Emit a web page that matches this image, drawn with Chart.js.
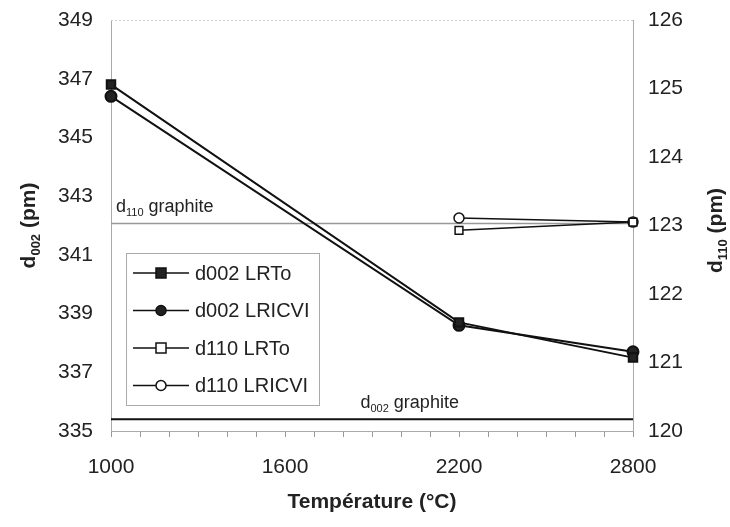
<!DOCTYPE html>
<html>
<head>
<meta charset="utf-8">
<script src="https://cdn.jsdelivr.net/npm/chart.js@4"></script>
<style>
  html, body { margin: 0; padding: 0; background: #fff; }
  #wrap { width: 730px; height: 527px; }
</style>
</head>
<body>
<div id="wrap"><canvas id="chart"></canvas></div>
<script>
// data
const temps = [1000, 2200, 2800];
const d002LRTo = [346.8, 338.7, 337.5];
const d002LRICVI = [346.4, 338.6, 337.7];
const d110LRTo = [null, 122.93, 123.05];
const d110LRICVI = [null, 123.11, 123.05];
const d002Graphite = 335.4;
const d110Graphite = 123.03;
const xLabels = [1000, 1600, 2200, 2800];

const FONT = '"Liberation Sans", Arial, sans-serif';
const INK = '#222';

function pts(vals) {
    return temps.map((t, i) => ({ x: t, y: vals[i] })).filter(p => p.y !== null);
}
function flat(v) {
    return [{ x: temps[0], y: v }, { x: temps[temps.length - 1], y: v }];
}

// text with a subscript part: main, sub, rest
function subText(ctx, x, y, parts, size, bold, align) {
    const w = bold ? 'bold ' : '';
    const big = w + size + 'px ' + FONT;
    const small = w + Math.round(size * 0.62) + 'px ' + FONT;
    ctx.font = big; const w1 = ctx.measureText(parts[0]).width;
    ctx.font = small; const w2 = ctx.measureText(parts[1]).width;
    ctx.font = big; const w3 = ctx.measureText(parts[2]).width;
    let sx = x;
    if (align === 'center') sx = x - (w1 + w2 + w3) / 2;
    ctx.textAlign = 'left';
    ctx.textBaseline = 'alphabetic';
    ctx.fillStyle = INK;
    ctx.font = big; ctx.fillText(parts[0], sx, y);
    ctx.font = small; ctx.fillText(parts[1], sx + w1, y + size * 0.22);
    ctx.font = big; ctx.fillText(parts[2], sx + w1 + w2, y);
}

const decor = {
    id: 'decor',
    afterDatasetsDraw(chart) {
        const ctx = chart.ctx;
        const xs = chart.scales.x, y = chart.scales.y, y1 = chart.scales.y1;
        const a = chart.chartArea;
        ctx.save();
        // faint top line
        ctx.strokeStyle = '#ccc';
        ctx.lineWidth = 1;
        ctx.setLineDash([2, 2]);
        ctx.beginPath(); ctx.moveTo(a.left, a.top + 0.5); ctx.lineTo(a.right, a.top + 0.5); ctx.stroke();
        ctx.setLineDash([]);

        // reference line labels
        subText(ctx, xs.getPixelForValue(1000) + 5, y1.getPixelForValue(d110Graphite) - 11,
            ['d', '110', ' graphite'], 18, false, 'left');
        subText(ctx, xs.getPixelForValue(2030), y.getPixelForValue(d002Graphite) - 11,
            ['d', '002', ' graphite'], 18, false, 'center');

        // legend box
        const lx = 126, ly = 253, lw = 193, lh = 152;
        ctx.strokeStyle = '#aaa';
        ctx.lineWidth = 1;
        ctx.strokeRect(lx + 0.5, ly + 0.5, lw, lh);
        chart.data.datasets.forEach((ds, i) => {
            if (ds.noLegend) return;
            const cy = ly + 20 + i * 37.5;
            ctx.strokeStyle = '#111';
            ctx.lineWidth = 1.5;
            ctx.beginPath(); ctx.moveTo(lx + 7, cy); ctx.lineTo(lx + 63, cy); ctx.stroke();
            ctx.fillStyle = ds.pointBackgroundColor;
            const mx = lx + 35;
            if (ds.pointStyle === 'rect') {
                ctx.fillRect(mx - 5, cy - 5, 10, 10);
                ctx.strokeRect(mx - 5, cy - 5, 10, 10);
            } else {
                ctx.beginPath(); ctx.arc(mx, cy, 5, 0, Math.PI * 2); ctx.fill(); ctx.stroke();
            }
            ctx.fillStyle = INK;
            ctx.font = '20px ' + FONT;
            ctx.textAlign = 'left';
            ctx.textBaseline = 'middle';
            ctx.fillText(ds.label, lx + 69, cy + 1);
        });

        // axis titles
        ctx.save();
        ctx.translate(35, (a.top + a.bottom) / 2);
        ctx.rotate(-Math.PI / 2);
        subText(ctx, 0, 0, ['d', '002', ' (pm)'], 21, true, 'center');
        ctx.restore();
        ctx.save();
        ctx.translate(722, (a.top + a.bottom) / 2 + 5);
        ctx.rotate(-Math.PI / 2);
        subText(ctx, 0, 0, ['d', '110', ' (pm)'], 21, true, 'center');
        ctx.restore();
        ctx.restore();
    }
};

new Chart(document.getElementById('chart'), {
    type: 'line',
    data: {
        datasets: [
            {
                label: 'd002 LRTo', data: pts(d002LRTo), yAxisID: 'y', clip: false,
                borderColor: '#111', borderWidth: 2,
                pointStyle: 'rect', pointRadius: 6, pointBackgroundColor: '#222', pointBorderColor: '#111'
            },
            {
                label: 'd002 LRICVI', data: pts(d002LRICVI), yAxisID: 'y', clip: false,
                borderColor: '#111', borderWidth: 2,
                pointStyle: 'circle', pointRadius: 5.5, pointBackgroundColor: '#222', pointBorderColor: '#111'
            },
            {
                label: 'd110 LRTo', data: pts(d110LRTo), yAxisID: 'y1', clip: false,
                borderColor: '#111', borderWidth: 1.5,
                pointStyle: 'rect', pointRadius: 5.5, pointBackgroundColor: '#fff', pointBorderColor: '#111', pointBorderWidth: 1.5
            },
            {
                label: 'd110 LRICVI', data: pts(d110LRICVI), yAxisID: 'y1', clip: false,
                borderColor: '#111', borderWidth: 1.5,
                pointStyle: 'circle', pointRadius: 5, pointBackgroundColor: '#fff', pointBorderColor: '#111', pointBorderWidth: 1.5
            },
            {
                label: 'd110 graphite', data: flat(d110Graphite), yAxisID: 'y1', noLegend: true,
                borderColor: '#999', borderWidth: 1.5, pointRadius: 0, order: 5
            },
            {
                label: 'd002 graphite', data: flat(d002Graphite), yAxisID: 'y', noLegend: true,
                borderColor: '#111', borderWidth: 2, pointRadius: 0, order: 5
            }
        ]
    },
    options: {
        responsive: true,
        maintainAspectRatio: false,
        animation: false,
        layout: { padding: { top: 20, left: 0, right: 0, bottom: 0 } },
        plugins: {
            legend: { display: false },
            tooltip: { enabled: false }
        },
        scales: {
            x: {
                type: 'linear',
                min: 1000, max: 2800,
                afterFit(s) { s.height = 96; },
                grid: { display: true, drawOnChartArea: false, drawTicks: true, tickLength: 6, color: '#999' },
                border: { display: true, color: '#aaa', dash: [2, 2], width: 1 },
                ticks: {
                    stepSize: 100, autoSkip: false, maxRotation: 0, padding: 18,
                    color: INK, font: { family: FONT, size: 21 },
                    callback: v => xLabels.includes(v) ? String(v) : ''
                },
                title: {
                    display: true, text: 'Température (°C)', color: INK,
                    font: { family: FONT, size: 21, weight: 'bold' }, padding: { top: 4, bottom: 12 }
                }
            },
            y: {
                position: 'left',
                min: 335, max: 349,
                afterFit(s) { s.width = 111; s.paddingTop = 0; s.paddingBottom = 0; },
                grid: { display: false, drawTicks: false },
                border: { display: true, color: '#aaa', width: 1 },
                ticks: { stepSize: 2, padding: 18, color: INK, font: { family: FONT, size: 21 } }
            },
            y1: {
                position: 'right',
                min: 120, max: 126,
                afterFit(s) { s.width = 97; s.paddingTop = 0; s.paddingBottom = 0; },
                grid: { display: false, drawTicks: false },
                border: { display: true, color: '#aaa', width: 1 },
                ticks: { stepSize: 1, padding: 15, color: INK, font: { family: FONT, size: 21 } }
            }
        }
    },
    plugins: [decor]
});
</script>
</body>
</html>
